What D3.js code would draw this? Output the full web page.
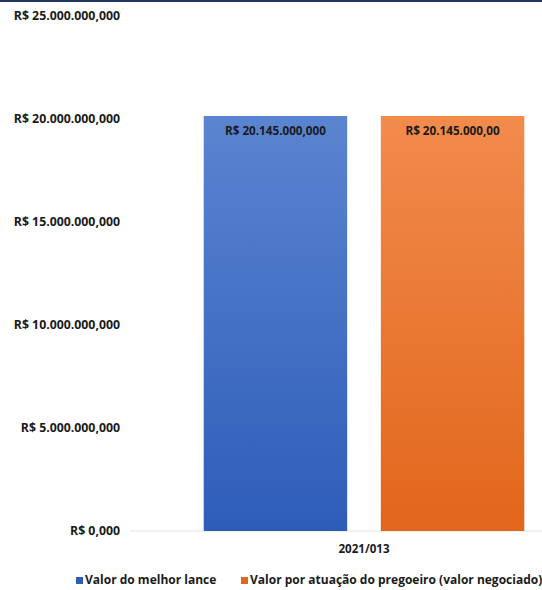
<!DOCTYPE html>
<html>
<head>
<meta charset="utf-8">
<script src="https://cdn.jsdelivr.net/npm/d3@7"></script>
<style>
  body { margin: 0; background: #fff; }
  text { font-family: "Open Sans", "Liberation Sans", sans-serif; font-weight: 700; fill: #1a1a1a; }
</style>
</head>
<body>
<script>
var categories = ['2021/013'];
var seriesNames = ['Valor do melhor lance', 'Valor por atuação do pregoeiro (valor negociado)'];
var seriesValues = [20145000000, 20145000000];
var valueLabels = ['R$ 20.145.000,000', 'R$ 20.145.000,00'];
var tickValues = [0, 5e9, 10e9, 15e9, 20e9, 25e9];
var tickLabels = ['R$ 0,000', 'R$ 5.000.000,000', 'R$ 10.000.000,000', 'R$ 15.000.000,000', 'R$ 20.000.000,000', 'R$ 25.000.000,000'];

var width = 542, height = 590;
var colors = [['#5b84d0', '#2e5db9'], ['#f18b4c', '#e2661b']];

var svg = d3.select('body').append('svg')
  .attr('width', width)
  .attr('height', height);

var defs = svg.append('defs');
colors.forEach(function(c, i) {
  var g = defs.append('linearGradient')
    .attr('id', 'grad' + i)
    .attr('x1', 0).attr('y1', 0).attr('x2', 0).attr('y2', 1);
  g.append('stop').attr('offset', '0%').attr('stop-color', c[0]);
  g.append('stop').attr('offset', '100%').attr('stop-color', c[1]);
});

// top border
svg.append('rect')
  .attr('x', 0).attr('y', 0)
  .attr('width', width).attr('height', 2)
  .attr('fill', '#23335f');

var y = d3.scaleLinear().domain([0, 25e9]).range([531, 16]);
var x0 = d3.scaleBand().domain(categories).range([186, 542]);
var x1 = d3.scaleBand().domain(d3.range(seriesValues.length))
  .range([0, x0.bandwidth()]).paddingInner(0.19).paddingOuter(0.1);

// baseline
svg.append('line')
  .attr('x1', 130).attr('x2', width)
  .attr('y1', y(0)).attr('y2', y(0))
  .attr('stroke', '#e3e3e3');

// y axis labels
svg.append('g').selectAll('text')
  .data(tickValues)
  .join('text')
  .attr('x', 120)
  .attr('y', function(d) { return y(d); })
  .attr('dy', '0.35em')
  .attr('text-anchor', 'end')
  .style('font-size', '12.3px')
  .text(function(d, i) { return tickLabels[i]; });

var g = svg.append('g').attr('transform', 'translate(' + x0(categories[0]) + ',0)');

g.selectAll('rect')
  .data(seriesValues)
  .join('rect')
  .attr('x', function(d, i) { return x1(i); })
  .attr('y', function(d) { return y(d); })
  .attr('width', x1.bandwidth())
  .attr('height', function(d) { return y(0) - y(d); })
  .attr('fill', function(d, i) { return 'url(#grad' + i + ')'; });

g.selectAll('text.val')
  .data(seriesValues)
  .join('text')
  .attr('class', 'val')
  .attr('x', function(d, i) { return x1(i) + x1.bandwidth() / 2; })
  .attr('y', function(d) { return y(d) + 19; })
  .attr('text-anchor', 'middle')
  .style('font-size', '11.7px')
  .text(function(d, i) { return valueLabels[i]; });

// category label
svg.append('text')
  .attr('x', x0(categories[0]) + x0.bandwidth() / 2)
  .attr('y', 553)
  .attr('text-anchor', 'middle')
  .style('font-size', '11.6px')
  .text(categories[0]);

// legend
var legendX = [76, 241];
var legend = svg.append('g').selectAll('g')
  .data(seriesNames)
  .join('g')
  .attr('transform', function(d, i) { return 'translate(' + legendX[i] + ',580)'; });

legend.append('rect')
  .attr('x', 0).attr('y', -3)
  .attr('width', 7).attr('height', 7)
  .attr('fill', function(d, i) { return colors[i][1]; });

legend.append('text')
  .attr('x', 9)
  .attr('y', 0)
  .attr('dy', '0.35em')
  .style('font-size', '12px')
  .text(function(d) { return d; });
</script>
</body>
</html>
